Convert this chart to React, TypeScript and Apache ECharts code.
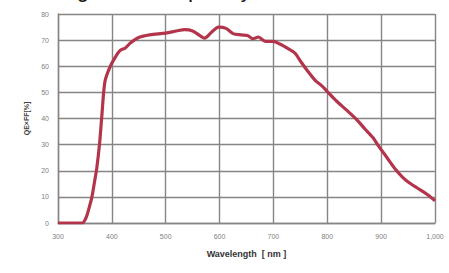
import React, { useEffect, useRef } from "react";
import * as echarts from "echarts";

const titleText = "Wavelength vs. Frequency";
const xAxisName = "Wavelength  [ nm ]";
const yAxisName = "QE×FF[%]";
const xTicks = [300, 400, 500, 600, 700, 800, 900, 1000];
const yTicks = [0, 10, 20, 30, 40, 50, 60, 70, 80];

const wavelengths = [
  300, 320, 345, 352, 358, 363, 368, 372, 377, 381, 387, 395, 405, 415, 425, 435,
  450, 470, 500, 520, 535, 550, 565, 572, 585, 598, 612, 625, 640, 652, 662, 672,
  685, 700, 712, 725, 740, 750, 762, 778, 790, 800, 818, 837, 855, 870, 885, 895,
  911, 925, 940, 955, 967, 985, 1000,
];
const qeValues = [
  0, 0, 0, 2, 6, 10, 16, 21, 30, 40, 54, 59, 63, 66, 67, 69,
  71, 72, 72.7, 73.5, 74, 73.5, 71.5, 70.8, 73, 75, 74.5, 72.5, 72, 71.8, 70.5, 71.2,
  69.5, 69.5, 68.5, 67, 65, 62, 58.6, 54.5, 52.5, 50.3, 46.5, 43, 39.5, 36, 32.6, 29.5,
  25, 21, 17.5, 15, 13.4, 11, 8.5,
];

export default function App() {
  const ref = useRef<HTMLDivElement>(null);
  useEffect(() => {
    if (!ref.current) return;
    const chart = echarts.init(ref.current, null, { renderer: "svg" });
    const data = wavelengths.map((w, i) => [w, qeValues[i]]);
    chart.setOption({
      animation: false,
      backgroundColor: "#ffffff",
      grid: { left: 58, right: 14, top: 14, bottom: 50 },
      graphic: [
        {
          type: "text",
          left: -8,
          top: -22,
          style: {
            text: titleText,
            font: "22px 'Liberation Sans'",
            fill: "#111",
          },
        },
      ],
      xAxis: {
        type: "value",
        min: xTicks[0],
        max: xTicks[xTicks.length - 1],
        interval: 100,
        name: xAxisName,
        nameLocation: "middle",
        nameGap: 26,
        nameTextStyle: { fontSize: 9, color: "#333", fontWeight: "bold", fontFamily: "Liberation Sans" },
        axisLine: { show: true, lineStyle: { color: "#858585", width: 1.4 } },
        axisTick: { show: false },
        axisLabel: { fontSize: 7, color: "#808080", margin: 10, fontFamily: "Liberation Sans" },
        splitLine: { show: true, lineStyle: { color: "#858585", width: 1.4 } },
      },
      yAxis: {
        type: "value",
        min: yTicks[0],
        max: yTicks[yTicks.length - 1],
        interval: 10,
        name: yAxisName,
        nameLocation: "middle",
        nameGap: 27,
        nameRotate: 90,
        nameTextStyle: { fontSize: 7, color: "#444", fontWeight: "bold", fontFamily: "Liberation Sans" },
        axisLine: { show: true, lineStyle: { color: "#858585", width: 1.4 } },
        axisTick: { show: false },
        axisLabel: { fontSize: 7, color: "#808080", margin: 9, fontFamily: "Liberation Sans" },
        splitLine: { show: true, lineStyle: { color: "#858585", width: 1.4 } },
      },
      series: [
        {
          type: "line",
          data,
          showSymbol: false,
          smooth: 0.3,
          lineStyle: { color: "#b3354c", width: 3.2 },
          z: 5,
        },
      ],
    });
    return () => chart.dispose();
  }, []);
  return <div ref={ref} style={{ width: 449, height: 273, position: "absolute", left: 0, top: 0 }} />;
}
